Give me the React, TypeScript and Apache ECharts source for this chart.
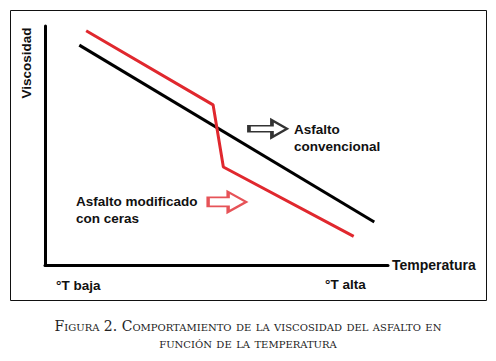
import React, { useEffect, useRef } from "react";
import * as echarts from "echarts";

// Data (value space 0..100 on both axes, qualitative diagram)
const conventional: [number, number][] = [
  [10, 92],
  [96, 18],
];
const modified: [number, number][] = [
  [12, 98],
  [49, 67],
  [52, 41],
  [90, 12],
];
const arrowBlack: [number, number][] = [[65, 57]];
const arrowRed: [number, number][] = [[53.1, 26.4]];

const xAxisName = "Temperatura";
const yAxisName = "Viscosidad";
const lowLabel = "°T baja";
const highLabel = "°T alta";
const conventionalLabel = "Asfalto\nconvencional";
const modifiedLabel = "Asfalto modificado\ncon ceras";
const captionLines = [
  "Figura 2. Comportamiento de la viscosidad del asfalto en",
  "función de la temperatura",
];

const BLACK = "#000000";
const RED = "#e0282e";
const SANS = "'Liberation Sans', Arial, sans-serif";

const blackArrowPath = "path://M0 5.5 L23 5.5 L23 0 L38 8.5 L23 17 L23 11.5 L0 11.5 Z";
const redArrowPath = "path://M0 5.5 L20 5.5 L20 0 L38 10 L20 20 L20 14.5 L0 14.5 Z";

export default function App() {
  const ref = useRef<HTMLDivElement>(null);
  useEffect(() => {
    if (!ref.current) return;
    const chart = echarts.init(ref.current, null, { renderer: "svg" });
    const labelStyle = {
      fontFamily: SANS,
      fontWeight: "bold" as const,
      fontSize: 13.5,
      fill: "#111",
    };
    chart.setOption({
      animation: false,
      backgroundColor: "#ffffff",
      grid: { left: 45, top: 26, width: 343, height: 239 },
      xAxis: {
        type: "value",
        min: 0,
        max: 100,
        axisLine: { show: true, lineStyle: { color: BLACK, width: 3 } },
        axisTick: { show: false },
        axisLabel: { show: false },
        splitLine: { show: false },
        name: xAxisName,
        nameLocation: "end",
        nameGap: 4,
        nameTextStyle: {
          fontFamily: SANS,
          fontWeight: "bold",
          fontSize: 14,
          color: "#111",
        },
      },
      yAxis: {
        type: "value",
        min: 0,
        max: 100,
        axisLine: { show: true, lineStyle: { color: BLACK, width: 3 } },
        axisTick: { show: false },
        axisLabel: { show: false },
        splitLine: { show: false },
      },
      series: [
        {
          type: "line",
          data: conventional,
          symbol: "none",
          lineStyle: { color: BLACK, width: 3 },
          silent: true,
        },
        {
          type: "line",
          data: modified,
          symbol: "none",
          lineStyle: { color: RED, width: 3 },
          silent: true,
        },
        {
          type: "scatter",
          data: arrowBlack,
          symbol: blackArrowPath,
          symbolSize: [38, 17],
          itemStyle: { color: "#ffffff", borderColor: BLACK, borderWidth: 2.5 },
          silent: true,
        },
        {
          type: "scatter",
          data: arrowRed,
          symbol: redArrowPath,
          symbolSize: [38, 20],
          itemStyle: { color: "#ffffff", borderColor: RED, borderWidth: 2.5 },
          silent: true,
        },
      ],
      graphic: [
        {
          type: "rect",
          shape: { x: 10.5, y: 10.5, width: 476, height: 290 },
          style: { fill: "none", stroke: "#111", lineWidth: 1 },
          silent: true,
        },
        {
          type: "text",
          x: 26,
          y: 63,
          rotation: Math.PI / 2,
          style: { ...labelStyle, text: yAxisName, align: "center", verticalAlign: "middle" },
        },
        {
          type: "text",
          x: 294,
          y: 120.5,
          style: { ...labelStyle, text: conventionalLabel, lineHeight: 17, align: "left", verticalAlign: "top" },
        },
        {
          type: "text",
          x: 76,
          y: 192.5,
          style: { ...labelStyle, text: modifiedLabel, lineHeight: 17, align: "left", verticalAlign: "top" },
        },
        {
          type: "text",
          x: 56,
          y: 285,
          style: { ...labelStyle, text: lowLabel, align: "left", verticalAlign: "middle" },
        },
        {
          type: "text",
          x: 325,
          y: 284,
          style: { ...labelStyle, text: highLabel, align: "left", verticalAlign: "middle" },
        },
        {
          type: "text",
          x: 248,
          y: 326,
          style: {
            text: captionLines[0],
            font: "small-caps 14px 'DejaVu Serif'",
            fill: "#222",
            align: "center",
            verticalAlign: "middle",
          },
        },
        {
          type: "text",
          x: 248,
          y: 343,
          style: {
            text: captionLines[1],
            font: "small-caps 14px 'DejaVu Serif'",
            fill: "#222",
            align: "center",
            verticalAlign: "middle",
          },
        },
      ],
    });
    return () => chart.dispose();
  }, []);
  return (
    <div
      ref={ref}
      style={{ position: "absolute", left: 0, top: 0, width: 496, height: 361 }}
    />
  );
}
